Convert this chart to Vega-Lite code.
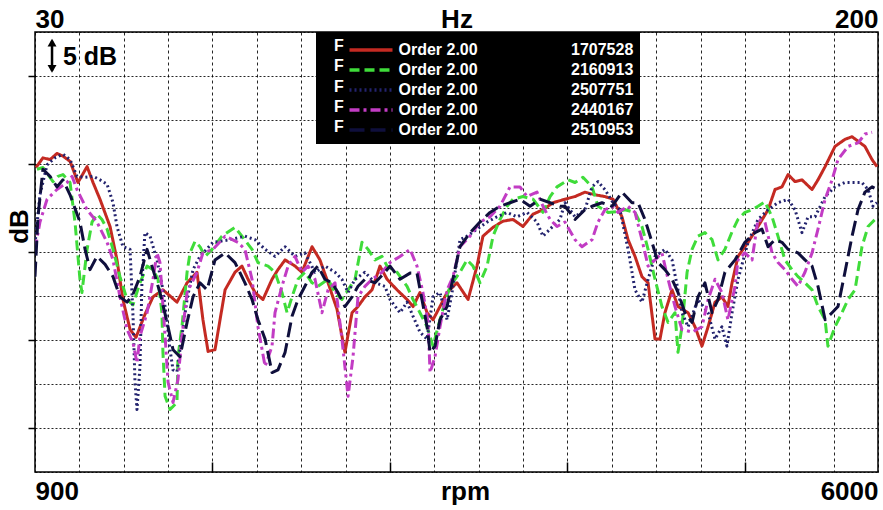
{
  "$schema": "https://vega.github.io/schema/vega-lite/v6.json",
  "width": 843,
  "height": 440,
  "autosize": {"type": "none"},
  "padding": {"left": 35, "top": 32, "right": 5, "bottom": 38},
  "background": "white",
  "config": {
    "font": "Liberation Sans",
    "view": {"stroke": "black", "strokeWidth": 1.5},
    "axis": {"domain": false, "labelColor": "black", "titleColor": "black"},
    "legend": {
      "orient": "none", "legendX": 281, "legendY": 0, "zindex": 2,
      "fillColor": "black", "padding": 6,
      "titleOrient": "left", "titleColor": "white", "titleFont": "Liberation Sans", "titleFontSize": 16, "titleFontWeight": "bold",
      "titleLineHeight": 20.3, "titlePadding": 15, "titleAnchor": "start", "titleBaseline": "top", "titleAlign": "left",
      "symbolType": "M-2.15,0H2.15", "symbolSize": 400, "symbolStrokeWidth": 3.5,
      "labelColor": "white", "labelFont": "Liberation Sans", "labelFontSize": 16, "labelFontWeight": "bold",
      "labelOffset": 15.5, "labelLimit": 0, "rowPadding": -3
    }
  },
  "datasets": {
    "curves": [
      {"s":"1707528","rpm":906,"dB":34.6},{"s":"1707528","rpm":948,"dB":35.7},{"s":"1707528","rpm":991,"dB":35.5},{"s":"1707528","rpm":1033,"dB":36.2},{"s":"1707528","rpm":1069,"dB":35.9},{"s":"1707528","rpm":1112,"dB":35.3},{"s":"1707528","rpm":1160,"dB":32.9},{"s":"1707528","rpm":1215,"dB":34.7},{"s":"1707528","rpm":1251,"dB":32.9},{"s":"1707528","rpm":1293,"dB":31.0},{"s":"1707528","rpm":1354,"dB":27.9},{"s":"1707528","rpm":1396,"dB":24.1},{"s":"1707528","rpm":1432,"dB":19.6},{"s":"1707528","rpm":1475,"dB":16.2},{"s":"1707528","rpm":1511,"dB":15.3},{"s":"1707528","rpm":1565,"dB":17.9},{"s":"1707528","rpm":1614,"dB":19.9},{"s":"1707528","rpm":1674,"dB":20.7},{"s":"1707528","rpm":1717,"dB":20.0},{"s":"1707528","rpm":1759,"dB":19.3},{"s":"1707528","rpm":1820,"dB":21.5},{"s":"1707528","rpm":1880,"dB":22.7},{"s":"1707528","rpm":1916,"dB":17.3},{"s":"1707528","rpm":1947,"dB":13.7},{"s":"1707528","rpm":1989,"dB":13.9},{"s":"1707528","rpm":2050,"dB":20.7},{"s":"1707528","rpm":2110,"dB":22.7},{"s":"1707528","rpm":2152,"dB":23.4},{"s":"1707528","rpm":2189,"dB":21.9},{"s":"1707528","rpm":2231,"dB":20.4},{"s":"1707528","rpm":2279,"dB":19.6},{"s":"1707528","rpm":2334,"dB":21.9},{"s":"1707528","rpm":2370,"dB":23.0},{"s":"1707528","rpm":2413,"dB":24.1},{"s":"1707528","rpm":2473,"dB":23.4},{"s":"1707528","rpm":2515,"dB":22.7},{"s":"1707528","rpm":2576,"dB":25.6},{"s":"1707528","rpm":2624,"dB":24.1},{"s":"1707528","rpm":2673,"dB":21.5},{"s":"1707528","rpm":2727,"dB":18.5},{"s":"1707528","rpm":2775,"dB":13.6},{"s":"1707528","rpm":2818,"dB":18.1},{"s":"1707528","rpm":2854,"dB":18.8},{"s":"1707528","rpm":2896,"dB":19.9},{"s":"1707528","rpm":2939,"dB":20.7},{"s":"1707528","rpm":2987,"dB":23.4},{"s":"1707528","rpm":3030,"dB":21.9},{"s":"1707528","rpm":3090,"dB":20.7},{"s":"1707528","rpm":3151,"dB":19.6},{"s":"1707528","rpm":3187,"dB":18.8},{"s":"1707528","rpm":3229,"dB":20.4},{"s":"1707528","rpm":3272,"dB":18.1},{"s":"1707528","rpm":3308,"dB":17.3},{"s":"1707528","rpm":3350,"dB":18.8},{"s":"1707528","rpm":3393,"dB":20.4},{"s":"1707528","rpm":3453,"dB":21.5},{"s":"1707528","rpm":3520,"dB":19.6},{"s":"1707528","rpm":3574,"dB":23.4},{"s":"1707528","rpm":3610,"dB":26.8},{"s":"1707528","rpm":3671,"dB":27.8},{"s":"1707528","rpm":3731,"dB":28.5},{"s":"1707528","rpm":3792,"dB":28.7},{"s":"1707528","rpm":3852,"dB":27.9},{"s":"1707528","rpm":3913,"dB":29.3},{"s":"1707528","rpm":3973,"dB":29.8},{"s":"1707528","rpm":4034,"dB":30.6},{"s":"1707528","rpm":4106,"dB":31.0},{"s":"1707528","rpm":4167,"dB":31.3},{"s":"1707528","rpm":4227,"dB":31.8},{"s":"1707528","rpm":4288,"dB":31.5},{"s":"1707528","rpm":4348,"dB":31.3},{"s":"1707528","rpm":4397,"dB":31.0},{"s":"1707528","rpm":4451,"dB":29.0},{"s":"1707528","rpm":4488,"dB":26.4},{"s":"1707528","rpm":4530,"dB":24.5},{"s":"1707528","rpm":4572,"dB":22.2},{"s":"1707528","rpm":4609,"dB":21.5},{"s":"1707528","rpm":4651,"dB":15.1},{"s":"1707528","rpm":4681,"dB":15.1},{"s":"1707528","rpm":4711,"dB":18.1},{"s":"1707528","rpm":4754,"dB":20.7},{"s":"1707528","rpm":4790,"dB":18.8},{"s":"1707528","rpm":4851,"dB":18.1},{"s":"1707528","rpm":4893,"dB":16.5},{"s":"1707528","rpm":4935,"dB":14.3},{"s":"1707528","rpm":4972,"dB":16.5},{"s":"1707528","rpm":5014,"dB":19.3},{"s":"1707528","rpm":5056,"dB":19.9},{"s":"1707528","rpm":5092,"dB":18.8},{"s":"1707528","rpm":5117,"dB":21.5},{"s":"1707528","rpm":5153,"dB":24.5},{"s":"1707528","rpm":5214,"dB":26.1},{"s":"1707528","rpm":5274,"dB":27.9},{"s":"1707528","rpm":5335,"dB":29.8},{"s":"1707528","rpm":5377,"dB":32.1},{"s":"1707528","rpm":5419,"dB":32.4},{"s":"1707528","rpm":5456,"dB":33.8},{"s":"1707528","rpm":5498,"dB":33.0},{"s":"1707528","rpm":5540,"dB":33.2},{"s":"1707528","rpm":5601,"dB":32.1},{"s":"1707528","rpm":5637,"dB":33.2},{"s":"1707528","rpm":5680,"dB":34.7},{"s":"1707528","rpm":5740,"dB":37.0},{"s":"1707528","rpm":5800,"dB":37.8},{"s":"1707528","rpm":5843,"dB":38.1},{"s":"1707528","rpm":5879,"dB":37.6},{"s":"1707528","rpm":5921,"dB":37.0},{"s":"1707528","rpm":5964,"dB":35.5},{"s":"1707528","rpm":5994,"dB":34.7},

      {"s":"2160913","rpm":912,"dB":34.4},{"s":"2160913","rpm":948,"dB":34.6},{"s":"2160913","rpm":1009,"dB":33.0},{"s":"2160913","rpm":1039,"dB":33.6},{"s":"2160913","rpm":1069,"dB":33.8},{"s":"2160913","rpm":1112,"dB":32.9},{"s":"2160913","rpm":1142,"dB":28.4},{"s":"2160913","rpm":1172,"dB":21.9},{"s":"2160913","rpm":1184,"dB":20.4},{"s":"2160913","rpm":1215,"dB":25.3},{"s":"2160913","rpm":1245,"dB":28.4},{"s":"2160913","rpm":1275,"dB":29.3},{"s":"2160913","rpm":1305,"dB":28.7},{"s":"2160913","rpm":1336,"dB":27.6},{"s":"2160913","rpm":1372,"dB":25.3},{"s":"2160913","rpm":1414,"dB":22.2},{"s":"2160913","rpm":1457,"dB":19.6},{"s":"2160913","rpm":1493,"dB":19.0},{"s":"2160913","rpm":1535,"dB":21.5},{"s":"2160913","rpm":1578,"dB":23.4},{"s":"2160913","rpm":1614,"dB":23.0},{"s":"2160913","rpm":1644,"dB":21.9},{"s":"2160913","rpm":1668,"dB":18.1},{"s":"2160913","rpm":1674,"dB":13.6},{"s":"2160913","rpm":1687,"dB":8.6},{"s":"2160913","rpm":1717,"dB":7.1},{"s":"2160913","rpm":1759,"dB":7.9},{"s":"2160913","rpm":1765,"dB":13.1},{"s":"2160913","rpm":1789,"dB":16.5},{"s":"2160913","rpm":1820,"dB":22.7},{"s":"2160913","rpm":1838,"dB":24.9},{"s":"2160913","rpm":1868,"dB":26.2},{"s":"2160913","rpm":1898,"dB":25.6},{"s":"2160913","rpm":1929,"dB":24.5},{"s":"2160913","rpm":1971,"dB":25.3},{"s":"2160913","rpm":2031,"dB":26.8},{"s":"2160913","rpm":2110,"dB":27.8},{"s":"2160913","rpm":2152,"dB":26.8},{"s":"2160913","rpm":2213,"dB":25.3},{"s":"2160913","rpm":2249,"dB":23.8},{"s":"2160913","rpm":2310,"dB":23.4},{"s":"2160913","rpm":2352,"dB":22.7},{"s":"2160913","rpm":2394,"dB":20.4},{"s":"2160913","rpm":2425,"dB":18.1},{"s":"2160913","rpm":2455,"dB":19.9},{"s":"2160913","rpm":2491,"dB":21.9},{"s":"2160913","rpm":2533,"dB":22.7},{"s":"2160913","rpm":2576,"dB":21.5},{"s":"2160913","rpm":2612,"dB":21.1},{"s":"2160913","rpm":2673,"dB":21.9},{"s":"2160913","rpm":2715,"dB":20.4},{"s":"2160913","rpm":2757,"dB":19.6},{"s":"2160913","rpm":2794,"dB":20.7},{"s":"2160913","rpm":2836,"dB":21.9},{"s":"2160913","rpm":2878,"dB":26.1},{"s":"2160913","rpm":2915,"dB":25.3},{"s":"2160913","rpm":2957,"dB":24.1},{"s":"2160913","rpm":2999,"dB":24.5},{"s":"2160913","rpm":3030,"dB":23.4},{"s":"2160913","rpm":3090,"dB":22.7},{"s":"2160913","rpm":3151,"dB":21.1},{"s":"2160913","rpm":3187,"dB":19.6},{"s":"2160913","rpm":3229,"dB":18.1},{"s":"2160913","rpm":3272,"dB":16.5},{"s":"2160913","rpm":3308,"dB":14.3},{"s":"2160913","rpm":3338,"dB":16.5},{"s":"2160913","rpm":3368,"dB":18.5},{"s":"2160913","rpm":3411,"dB":21.1},{"s":"2160913","rpm":3471,"dB":22.7},{"s":"2160913","rpm":3514,"dB":24.1},{"s":"2160913","rpm":3550,"dB":23.4},{"s":"2160913","rpm":3592,"dB":21.5},{"s":"2160913","rpm":3635,"dB":23.4},{"s":"2160913","rpm":3671,"dB":26.8},{"s":"2160913","rpm":3713,"dB":28.7},{"s":"2160913","rpm":3756,"dB":30.2},{"s":"2160913","rpm":3792,"dB":31.0},{"s":"2160913","rpm":3852,"dB":31.3},{"s":"2160913","rpm":3913,"dB":31.0},{"s":"2160913","rpm":3973,"dB":29.5},{"s":"2160913","rpm":4016,"dB":31.3},{"s":"2160913","rpm":4058,"dB":32.4},{"s":"2160913","rpm":4125,"dB":33.2},{"s":"2160913","rpm":4167,"dB":32.9},{"s":"2160913","rpm":4215,"dB":33.5},{"s":"2160913","rpm":4270,"dB":32.4},{"s":"2160913","rpm":4306,"dB":30.2},{"s":"2160913","rpm":4367,"dB":29.5},{"s":"2160913","rpm":4427,"dB":29.6},{"s":"2160913","rpm":4469,"dB":29.8},{"s":"2160913","rpm":4530,"dB":29.5},{"s":"2160913","rpm":4572,"dB":27.9},{"s":"2160913","rpm":4609,"dB":25.3},{"s":"2160913","rpm":4651,"dB":21.9},{"s":"2160913","rpm":4693,"dB":18.8},{"s":"2160913","rpm":4730,"dB":17.0},{"s":"2160913","rpm":4772,"dB":18.1},{"s":"2160913","rpm":4790,"dB":13.6},{"s":"2160913","rpm":4814,"dB":16.5},{"s":"2160913","rpm":4845,"dB":22.7},{"s":"2160913","rpm":4875,"dB":25.3},{"s":"2160913","rpm":4911,"dB":26.8},{"s":"2160913","rpm":4953,"dB":27.2},{"s":"2160913","rpm":4996,"dB":26.4},{"s":"2160913","rpm":5032,"dB":24.1},{"s":"2160913","rpm":5074,"dB":25.3},{"s":"2160913","rpm":5117,"dB":27.3},{"s":"2160913","rpm":5153,"dB":28.7},{"s":"2160913","rpm":5195,"dB":29.5},{"s":"2160913","rpm":5238,"dB":29.8},{"s":"2160913","rpm":5274,"dB":30.2},{"s":"2160913","rpm":5316,"dB":30.7},{"s":"2160913","rpm":5359,"dB":29.0},{"s":"2160913","rpm":5395,"dB":26.8},{"s":"2160913","rpm":5437,"dB":24.1},{"s":"2160913","rpm":5480,"dB":23.0},{"s":"2160913","rpm":5516,"dB":22.2},{"s":"2160913","rpm":5558,"dB":21.5},{"s":"2160913","rpm":5601,"dB":20.7},{"s":"2160913","rpm":5637,"dB":18.8},{"s":"2160913","rpm":5680,"dB":17.3},{"s":"2160913","rpm":5697,"dB":14.3},{"s":"2160913","rpm":5740,"dB":16.5},{"s":"2160913","rpm":5782,"dB":18.1},{"s":"2160913","rpm":5819,"dB":19.6},{"s":"2160913","rpm":5861,"dB":20.7},{"s":"2160913","rpm":5903,"dB":25.6},{"s":"2160913","rpm":5940,"dB":27.9},{"s":"2160913","rpm":5982,"dB":28.7},

      {"s":"2507751","rpm":900,"dB":25.9},{"s":"2507751","rpm":930,"dB":31.5},{"s":"2507751","rpm":973,"dB":34.9},{"s":"2507751","rpm":1021,"dB":35.7},{"s":"2507751","rpm":1069,"dB":36.1},{"s":"2507751","rpm":1112,"dB":35.5},{"s":"2507751","rpm":1154,"dB":33.6},{"s":"2507751","rpm":1203,"dB":33.5},{"s":"2507751","rpm":1251,"dB":33.6},{"s":"2507751","rpm":1293,"dB":33.2},{"s":"2507751","rpm":1336,"dB":32.7},{"s":"2507751","rpm":1372,"dB":30.6},{"s":"2507751","rpm":1396,"dB":27.9},{"s":"2507751","rpm":1432,"dB":25.6},{"s":"2507751","rpm":1475,"dB":25.3},{"s":"2507751","rpm":1493,"dB":17.7},{"s":"2507751","rpm":1505,"dB":10.2},{"s":"2507751","rpm":1517,"dB":7.1},{"s":"2507751","rpm":1535,"dB":12.0},{"s":"2507751","rpm":1547,"dB":21.5},{"s":"2507751","rpm":1565,"dB":27.2},{"s":"2507751","rpm":1596,"dB":26.8},{"s":"2507751","rpm":1638,"dB":24.1},{"s":"2507751","rpm":1674,"dB":20.7},{"s":"2507751","rpm":1699,"dB":17.0},{"s":"2507751","rpm":1717,"dB":13.9},{"s":"2507751","rpm":1735,"dB":11.6},{"s":"2507751","rpm":1759,"dB":11.4},{"s":"2507751","rpm":1777,"dB":13.9},{"s":"2507751","rpm":1820,"dB":19.6},{"s":"2507751","rpm":1856,"dB":23.0},{"s":"2507751","rpm":1898,"dB":24.5},{"s":"2507751","rpm":1977,"dB":26.1},{"s":"2507751","rpm":2080,"dB":26.4},{"s":"2507751","rpm":2170,"dB":26.8},{"s":"2507751","rpm":2231,"dB":26.4},{"s":"2507751","rpm":2292,"dB":25.3},{"s":"2507751","rpm":2352,"dB":24.5},{"s":"2507751","rpm":2413,"dB":25.6},{"s":"2507751","rpm":2473,"dB":24.5},{"s":"2507751","rpm":2533,"dB":24.9},{"s":"2507751","rpm":2594,"dB":22.7},{"s":"2507751","rpm":2654,"dB":23.4},{"s":"2507751","rpm":2715,"dB":22.7},{"s":"2507751","rpm":2757,"dB":21.9},{"s":"2507751","rpm":2794,"dB":20.4},{"s":"2507751","rpm":2836,"dB":21.9},{"s":"2507751","rpm":2896,"dB":22.7},{"s":"2507751","rpm":2957,"dB":21.5},{"s":"2507751","rpm":3017,"dB":21.1},{"s":"2507751","rpm":3048,"dB":19.6},{"s":"2507751","rpm":3108,"dB":18.1},{"s":"2507751","rpm":3151,"dB":19.3},{"s":"2507751","rpm":3187,"dB":17.7},{"s":"2507751","rpm":3229,"dB":15.9},{"s":"2507751","rpm":3272,"dB":15.1},{"s":"2507751","rpm":3308,"dB":19.9},{"s":"2507751","rpm":3350,"dB":20.4},{"s":"2507751","rpm":3393,"dB":17.3},{"s":"2507751","rpm":3423,"dB":20.4},{"s":"2507751","rpm":3453,"dB":24.1},{"s":"2507751","rpm":3471,"dB":26.4},{"s":"2507751","rpm":3514,"dB":26.8},{"s":"2507751","rpm":3574,"dB":27.6},{"s":"2507751","rpm":3635,"dB":28.4},{"s":"2507751","rpm":3695,"dB":29.0},{"s":"2507751","rpm":3756,"dB":29.5},{"s":"2507751","rpm":3816,"dB":29.0},{"s":"2507751","rpm":3877,"dB":29.5},{"s":"2507751","rpm":3937,"dB":28.4},{"s":"2507751","rpm":3973,"dB":26.8},{"s":"2507751","rpm":4016,"dB":27.6},{"s":"2507751","rpm":4076,"dB":28.7},{"s":"2507751","rpm":4106,"dB":30.6},{"s":"2507751","rpm":4167,"dB":29.0},{"s":"2507751","rpm":4227,"dB":29.8},{"s":"2507751","rpm":4270,"dB":32.4},{"s":"2507751","rpm":4306,"dB":33.0},{"s":"2507751","rpm":4348,"dB":32.1},{"s":"2507751","rpm":4397,"dB":30.6},{"s":"2507751","rpm":4439,"dB":29.8},{"s":"2507751","rpm":4488,"dB":25.3},{"s":"2507751","rpm":4530,"dB":20.7},{"s":"2507751","rpm":4572,"dB":19.3},{"s":"2507751","rpm":4609,"dB":21.9},{"s":"2507751","rpm":4651,"dB":24.5},{"s":"2507751","rpm":4711,"dB":25.3},{"s":"2507751","rpm":4754,"dB":24.1},{"s":"2507751","rpm":4790,"dB":20.7},{"s":"2507751","rpm":4814,"dB":18.1},{"s":"2507751","rpm":4851,"dB":16.5},{"s":"2507751","rpm":4911,"dB":19.6},{"s":"2507751","rpm":4972,"dB":18.1},{"s":"2507751","rpm":5014,"dB":15.1},{"s":"2507751","rpm":5056,"dB":16.5},{"s":"2507751","rpm":5086,"dB":14.3},{"s":"2507751","rpm":5117,"dB":18.1},{"s":"2507751","rpm":5153,"dB":21.9},{"s":"2507751","rpm":5214,"dB":26.1},{"s":"2507751","rpm":5274,"dB":28.7},{"s":"2507751","rpm":5335,"dB":29.8},{"s":"2507751","rpm":5395,"dB":30.6},{"s":"2507751","rpm":5456,"dB":31.0},{"s":"2507751","rpm":5498,"dB":29.8},{"s":"2507751","rpm":5540,"dB":27.2},{"s":"2507751","rpm":5577,"dB":29.0},{"s":"2507751","rpm":5619,"dB":29.0},{"s":"2507751","rpm":5680,"dB":31.3},{"s":"2507751","rpm":5740,"dB":32.4},{"s":"2507751","rpm":5800,"dB":32.9},{"s":"2507751","rpm":5861,"dB":32.9},{"s":"2507751","rpm":5903,"dB":32.9},{"s":"2507751","rpm":5940,"dB":32.1},{"s":"2507751","rpm":5970,"dB":30.2},{"s":"2507751","rpm":5994,"dB":30.6},

      {"s":"2440167","rpm":900,"dB":25.3},{"s":"2440167","rpm":930,"dB":28.4},{"s":"2440167","rpm":973,"dB":31.0},{"s":"2440167","rpm":1033,"dB":32.1},{"s":"2440167","rpm":1094,"dB":32.9},{"s":"2440167","rpm":1124,"dB":33.6},{"s":"2440167","rpm":1154,"dB":32.1},{"s":"2440167","rpm":1215,"dB":29.8},{"s":"2440167","rpm":1275,"dB":28.4},{"s":"2440167","rpm":1336,"dB":26.1},{"s":"2440167","rpm":1372,"dB":24.1},{"s":"2440167","rpm":1414,"dB":19.9},{"s":"2440167","rpm":1457,"dB":16.2},{"s":"2440167","rpm":1493,"dB":14.7},{"s":"2440167","rpm":1517,"dB":12.4},{"s":"2440167","rpm":1535,"dB":15.4},{"s":"2440167","rpm":1578,"dB":18.1},{"s":"2440167","rpm":1614,"dB":21.9},{"s":"2440167","rpm":1638,"dB":24.9},{"s":"2440167","rpm":1656,"dB":23.8},{"s":"2440167","rpm":1687,"dB":15.4},{"s":"2440167","rpm":1705,"dB":10.2},{"s":"2440167","rpm":1735,"dB":7.9},{"s":"2440167","rpm":1765,"dB":10.5},{"s":"2440167","rpm":1789,"dB":15.4},{"s":"2440167","rpm":1820,"dB":20.4},{"s":"2440167","rpm":1880,"dB":22.7},{"s":"2440167","rpm":1916,"dB":24.9},{"s":"2440167","rpm":1977,"dB":25.3},{"s":"2440167","rpm":2050,"dB":26.8},{"s":"2440167","rpm":2128,"dB":26.1},{"s":"2440167","rpm":2170,"dB":25.3},{"s":"2440167","rpm":2213,"dB":21.9},{"s":"2440167","rpm":2249,"dB":16.5},{"s":"2440167","rpm":2292,"dB":12.0},{"s":"2440167","rpm":2334,"dB":14.3},{"s":"2440167","rpm":2352,"dB":18.1},{"s":"2440167","rpm":2394,"dB":21.1},{"s":"2440167","rpm":2431,"dB":23.4},{"s":"2440167","rpm":2473,"dB":24.5},{"s":"2440167","rpm":2515,"dB":22.7},{"s":"2440167","rpm":2552,"dB":23.4},{"s":"2440167","rpm":2594,"dB":21.9},{"s":"2440167","rpm":2636,"dB":18.1},{"s":"2440167","rpm":2673,"dB":20.7},{"s":"2440167","rpm":2715,"dB":21.5},{"s":"2440167","rpm":2757,"dB":15.1},{"s":"2440167","rpm":2794,"dB":8.6},{"s":"2440167","rpm":2824,"dB":13.1},{"s":"2440167","rpm":2854,"dB":19.9},{"s":"2440167","rpm":2896,"dB":21.1},{"s":"2440167","rpm":2939,"dB":21.9},{"s":"2440167","rpm":2999,"dB":22.7},{"s":"2440167","rpm":3048,"dB":23.8},{"s":"2440167","rpm":3108,"dB":24.5},{"s":"2440167","rpm":3169,"dB":25.3},{"s":"2440167","rpm":3211,"dB":23.4},{"s":"2440167","rpm":3247,"dB":20.4},{"s":"2440167","rpm":3278,"dB":17.0},{"s":"2440167","rpm":3290,"dB":11.3},{"s":"2440167","rpm":3320,"dB":13.1},{"s":"2440167","rpm":3350,"dB":16.5},{"s":"2440167","rpm":3393,"dB":20.7},{"s":"2440167","rpm":3429,"dB":22.2},{"s":"2440167","rpm":3471,"dB":25.6},{"s":"2440167","rpm":3532,"dB":26.8},{"s":"2440167","rpm":3592,"dB":28.4},{"s":"2440167","rpm":3653,"dB":29.0},{"s":"2440167","rpm":3713,"dB":30.2},{"s":"2440167","rpm":3774,"dB":32.4},{"s":"2440167","rpm":3834,"dB":32.4},{"s":"2440167","rpm":3877,"dB":31.3},{"s":"2440167","rpm":3937,"dB":31.8},{"s":"2440167","rpm":3973,"dB":30.2},{"s":"2440167","rpm":4016,"dB":28.7},{"s":"2440167","rpm":4058,"dB":27.9},{"s":"2440167","rpm":4106,"dB":28.4},{"s":"2440167","rpm":4167,"dB":26.4},{"s":"2440167","rpm":4209,"dB":25.6},{"s":"2440167","rpm":4270,"dB":26.4},{"s":"2440167","rpm":4306,"dB":28.4},{"s":"2440167","rpm":4348,"dB":29.8},{"s":"2440167","rpm":4391,"dB":30.2},{"s":"2440167","rpm":4427,"dB":29.5},{"s":"2440167","rpm":4488,"dB":30.2},{"s":"2440167","rpm":4530,"dB":29.5},{"s":"2440167","rpm":4572,"dB":26.4},{"s":"2440167","rpm":4609,"dB":23.4},{"s":"2440167","rpm":4651,"dB":24.1},{"s":"2440167","rpm":4693,"dB":24.9},{"s":"2440167","rpm":4730,"dB":21.9},{"s":"2440167","rpm":4772,"dB":18.8},{"s":"2440167","rpm":4814,"dB":16.2},{"s":"2440167","rpm":4875,"dB":15.9},{"s":"2440167","rpm":4935,"dB":16.5},{"s":"2440167","rpm":4972,"dB":19.6},{"s":"2440167","rpm":5014,"dB":21.9},{"s":"2440167","rpm":5056,"dB":20.4},{"s":"2440167","rpm":5092,"dB":17.3},{"s":"2440167","rpm":5135,"dB":21.1},{"s":"2440167","rpm":5153,"dB":24.1},{"s":"2440167","rpm":5195,"dB":24.9},{"s":"2440167","rpm":5238,"dB":24.1},{"s":"2440167","rpm":5274,"dB":28.7},{"s":"2440167","rpm":5316,"dB":28.4},{"s":"2440167","rpm":5359,"dB":24.9},{"s":"2440167","rpm":5395,"dB":23.8},{"s":"2440167","rpm":5437,"dB":23.0},{"s":"2440167","rpm":5480,"dB":21.9},{"s":"2440167","rpm":5516,"dB":21.1},{"s":"2440167","rpm":5558,"dB":22.7},{"s":"2440167","rpm":5601,"dB":24.9},{"s":"2440167","rpm":5637,"dB":27.6},{"s":"2440167","rpm":5680,"dB":31.0},{"s":"2440167","rpm":5722,"dB":33.2},{"s":"2440167","rpm":5758,"dB":35.5},{"s":"2440167","rpm":5819,"dB":37.0},{"s":"2440167","rpm":5879,"dB":37.4},{"s":"2440167","rpm":5921,"dB":38.4},{"s":"2440167","rpm":5964,"dB":38.6},

      {"s":"2510953","rpm":900,"dB":22.2},{"s":"2510953","rpm":918,"dB":29.0},{"s":"2510953","rpm":948,"dB":34.4},{"s":"2510953","rpm":991,"dB":33.6},{"s":"2510953","rpm":1033,"dB":32.4},{"s":"2510953","rpm":1069,"dB":33.2},{"s":"2510953","rpm":1112,"dB":31.5},{"s":"2510953","rpm":1172,"dB":28.4},{"s":"2510953","rpm":1203,"dB":25.3},{"s":"2510953","rpm":1233,"dB":23.0},{"s":"2510953","rpm":1275,"dB":24.5},{"s":"2510953","rpm":1324,"dB":23.6},{"s":"2510953","rpm":1372,"dB":22.2},{"s":"2510953","rpm":1414,"dB":19.9},{"s":"2510953","rpm":1457,"dB":19.3},{"s":"2510953","rpm":1493,"dB":20.2},{"s":"2510953","rpm":1535,"dB":22.2},{"s":"2510953","rpm":1578,"dB":25.3},{"s":"2510953","rpm":1614,"dB":23.0},{"s":"2510953","rpm":1656,"dB":20.4},{"s":"2510953","rpm":1699,"dB":17.0},{"s":"2510953","rpm":1735,"dB":13.9},{"s":"2510953","rpm":1777,"dB":13.1},{"s":"2510953","rpm":1820,"dB":17.0},{"s":"2510953","rpm":1856,"dB":19.9},{"s":"2510953","rpm":1898,"dB":21.5},{"s":"2510953","rpm":1941,"dB":20.7},{"s":"2510953","rpm":1989,"dB":24.1},{"s":"2510953","rpm":2050,"dB":24.9},{"s":"2510953","rpm":2110,"dB":23.8},{"s":"2510953","rpm":2170,"dB":21.5},{"s":"2510953","rpm":2213,"dB":19.6},{"s":"2510953","rpm":2249,"dB":17.3},{"s":"2510953","rpm":2292,"dB":15.1},{"s":"2510953","rpm":2334,"dB":11.3},{"s":"2510953","rpm":2370,"dB":11.6},{"s":"2510953","rpm":2413,"dB":13.6},{"s":"2510953","rpm":2455,"dB":17.7},{"s":"2510953","rpm":2491,"dB":19.6},{"s":"2510953","rpm":2533,"dB":21.1},{"s":"2510953","rpm":2576,"dB":22.7},{"s":"2510953","rpm":2612,"dB":23.4},{"s":"2510953","rpm":2654,"dB":21.9},{"s":"2510953","rpm":2697,"dB":21.5},{"s":"2510953","rpm":2733,"dB":20.4},{"s":"2510953","rpm":2775,"dB":18.8},{"s":"2510953","rpm":2818,"dB":19.9},{"s":"2510953","rpm":2854,"dB":21.1},{"s":"2510953","rpm":2896,"dB":21.9},{"s":"2510953","rpm":2957,"dB":21.5},{"s":"2510953","rpm":3017,"dB":22.7},{"s":"2510953","rpm":3048,"dB":23.4},{"s":"2510953","rpm":3108,"dB":21.9},{"s":"2510953","rpm":3169,"dB":22.6},{"s":"2510953","rpm":3211,"dB":22.6},{"s":"2510953","rpm":3241,"dB":19.6},{"s":"2510953","rpm":3272,"dB":16.5},{"s":"2510953","rpm":3290,"dB":13.6},{"s":"2510953","rpm":3320,"dB":14.3},{"s":"2510953","rpm":3350,"dB":17.3},{"s":"2510953","rpm":3393,"dB":18.8},{"s":"2510953","rpm":3423,"dB":21.5},{"s":"2510953","rpm":3471,"dB":25.6},{"s":"2510953","rpm":3532,"dB":27.2},{"s":"2510953","rpm":3592,"dB":28.4},{"s":"2510953","rpm":3653,"dB":29.5},{"s":"2510953","rpm":3713,"dB":30.2},{"s":"2510953","rpm":3774,"dB":30.6},{"s":"2510953","rpm":3834,"dB":31.0},{"s":"2510953","rpm":3895,"dB":30.2},{"s":"2510953","rpm":3955,"dB":31.0},{"s":"2510953","rpm":4016,"dB":30.6},{"s":"2510953","rpm":4076,"dB":30.2},{"s":"2510953","rpm":4106,"dB":30.2},{"s":"2510953","rpm":4167,"dB":28.7},{"s":"2510953","rpm":4227,"dB":29.8},{"s":"2510953","rpm":4270,"dB":30.2},{"s":"2510953","rpm":4330,"dB":30.6},{"s":"2510953","rpm":4391,"dB":30.2},{"s":"2510953","rpm":4451,"dB":31.8},{"s":"2510953","rpm":4512,"dB":30.6},{"s":"2510953","rpm":4548,"dB":30.6},{"s":"2510953","rpm":4590,"dB":28.7},{"s":"2510953","rpm":4633,"dB":26.1},{"s":"2510953","rpm":4669,"dB":23.8},{"s":"2510953","rpm":4711,"dB":23.0},{"s":"2510953","rpm":4754,"dB":21.9},{"s":"2510953","rpm":4790,"dB":20.4},{"s":"2510953","rpm":4832,"dB":18.1},{"s":"2510953","rpm":4875,"dB":17.0},{"s":"2510953","rpm":4911,"dB":19.9},{"s":"2510953","rpm":4953,"dB":21.5},{"s":"2510953","rpm":4996,"dB":18.1},{"s":"2510953","rpm":5032,"dB":19.6},{"s":"2510953","rpm":5074,"dB":22.7},{"s":"2510953","rpm":5135,"dB":24.1},{"s":"2510953","rpm":5195,"dB":26.1},{"s":"2510953","rpm":5256,"dB":27.2},{"s":"2510953","rpm":5298,"dB":27.6},{"s":"2510953","rpm":5335,"dB":25.6},{"s":"2510953","rpm":5377,"dB":26.4},{"s":"2510953","rpm":5419,"dB":26.1},{"s":"2510953","rpm":5456,"dB":25.3},{"s":"2510953","rpm":5516,"dB":24.9},{"s":"2510953","rpm":5558,"dB":24.1},{"s":"2510953","rpm":5601,"dB":23.4},{"s":"2510953","rpm":5637,"dB":21.1},{"s":"2510953","rpm":5680,"dB":17.3},{"s":"2510953","rpm":5722,"dB":18.1},{"s":"2510953","rpm":5758,"dB":18.8},{"s":"2510953","rpm":5800,"dB":22.7},{"s":"2510953","rpm":5843,"dB":26.8},{"s":"2510953","rpm":5879,"dB":29.8},{"s":"2510953","rpm":5921,"dB":31.8},{"s":"2510953","rpm":5964,"dB":32.4},{"s":"2510953","rpm":5994,"dB":32.1}
    ]
  },
  "layer": [
    {
      "data": {"name": "curves"},
      "mark": {"type": "line", "strokeWidth": 3, "strokeJoin": "round", "clip": true},
      "encoding": {
        "x": {
          "field": "rpm", "type": "quantitative",
          "scale": {"domain": [900, 6000], "nice": false, "zero": false},
          "axis": {
            "orient": "bottom",
            "values": [900, 1168.42, 1436.84, 1705.26, 1973.68, 2242.11, 2510.53, 2778.95, 3047.37, 3315.79, 3584.21, 3852.63, 4121.05, 4389.47, 4657.89, 4926.32, 5194.74, 5463.16, 5731.58, 6000],
            "grid": true, "gridColor": "black", "gridDash": [3, 3], "gridWidth": 1, "gridOpacity": 0.85,
            "ticks": false,
            "labelExpr": "datum.value == 900 ? '900' : (datum.value == 6000 ? '6000' : '')",
            "labelFlush": true, "labelOverlap": false,
            "labelFont": "Liberation Sans", "labelFontSize": 26, "labelFontWeight": "bold",
            "labelBaseline": "alphabetic", "labelPadding": 27,
            "title": "rpm", "titleFont": "Liberation Sans", "titleFontSize": 26, "titleFontWeight": "bold",
            "titleBaseline": "alphabetic", "titleY": 27, "titleX": 430
          }
        },
        "y": {
          "field": "dB", "type": "quantitative",
          "scale": {"domain": [0, 50], "nice": false, "zero": false},
          "axis": {
            "orient": "left",
            "values": [0, 5, 10, 15, 20, 25, 30, 35, 40, 45, 50],
            "grid": true, "gridColor": "black", "gridDash": [2, 2], "gridWidth": 1, "gridOpacity": 0.85,
            "ticks": false, "labels": false,
            "title": "dB", "titleFont": "Liberation Sans", "titleFontSize": 26, "titleFontWeight": "bold",
            "titleX": -16, "titleY": 194, "titleBaseline": "middle", "titleAlign": "center", "titleAngle": -90
          }
        },
        "color": {
          "field": "s", "type": "nominal",
          "scale": {
            "domain": ["1707528", "2160913", "2507751", "2440167", "2510953"],
            "range": ["#c42a22", "#3fdc3a", "#23236e", "#c23cc4", "#0f0f3c"]
          },
          "legend": {
            "title": ["\u2800F", "\u2800F", "\u2800F", "\u2800F", "\u2800F"],
            "labelExpr": "'Order 2.00' + '\u00a0\u00a0\u00a0\u00a0\u00a0\u00a0\u00a0\u00a0\u00a0\u00a0\u00a0\u00a0\u00a0\u00a0\u00a0\u00a0\u00a0\u00a0\u00a0\u00a0\u00a0' + datum.label"
          }
        },
        "strokeDash": {
          "field": "s", "type": "nominal",
          "scale": {
            "domain": ["1707528", "2160913", "2507751", "2440167", "2510953"],
            "range": [[1, 0], [10, 5], [2, 3], [10, 4, 3, 4], [15, 6]]
          },
          "legend": {
            "title": ["\u2800F", "\u2800F", "\u2800F", "\u2800F", "\u2800F"],
            "labelExpr": "'Order 2.00' + '\u00a0\u00a0\u00a0\u00a0\u00a0\u00a0\u00a0\u00a0\u00a0\u00a0\u00a0\u00a0\u00a0\u00a0\u00a0\u00a0\u00a0\u00a0\u00a0\u00a0\u00a0' + datum.label"
          }
        }
      }
    },
    {
      "data": {"values": [{}]},
      "mark": {"type": "rule", "color": "black", "strokeWidth": 2.5},
      "encoding": {
        "x": {
          "datum": 1003, "type": "quantitative",
          "axis": {
            "orient": "top", "values": [900, 6000],
            "grid": false, "ticks": false,
            "labelExpr": "datum.value == 900 ? '30' : '200'",
            "labelFlush": true, "labelOverlap": false,
            "labelFont": "Liberation Sans", "labelFontSize": 26, "labelFontWeight": "bold",
            "labelBaseline": "alphabetic", "labelPadding": 5,
            "title": "Hz", "titleFont": "Liberation Sans", "titleFontSize": 26, "titleFontWeight": "bold",
            "titleBaseline": "alphabetic", "titleY": -5
          }
        },
        "y": {
          "datum": 45.6, "type": "quantitative",
          "axis": {
            "orient": "left", "values": [5, 15, 25, 35, 45],
            "grid": false, "labels": false, "ticks": true, "tickSize": 7, "tickWidth": 1.5, "tickColor": "black", "title": null
          }
        },
        "y2": {"datum": 49.0}
      }
    },
    {
      "data": {"values": [{}]},
      "mark": {"type": "point", "shape": "triangle-up", "filled": true, "color": "black", "opacity": 1, "size": 80},
      "encoding": {
        "x": {
          "datum": 1003, "type": "quantitative",
          "axis": {
            "orient": "bottom", "values": [1973.68, 3047.37, 4121.05, 5194.74],
            "grid": false, "labels": false, "ticks": true, "tickSize": -10, "tickWidth": 1.5, "tickColor": "black", "title": null
          }
        },
        "y": {"datum": 48.8, "type": "quantitative", "axis": null}
      }
    },
    {
      "data": {"values": [{}]},
      "mark": {"type": "point", "shape": "triangle-down", "filled": true, "color": "black", "opacity": 1, "size": 80},
      "encoding": {
        "x": {"datum": 1003, "type": "quantitative", "axis": null},
        "y": {"datum": 45.8, "type": "quantitative", "axis": null}
      }
    },
    {
      "data": {"values": [{}]},
      "mark": {"type": "text", "text": "5 dB", "font": "Liberation Sans", "fontSize": 25, "fontWeight": "bold", "align": "left", "baseline": "middle", "color": "black"},
      "encoding": {
        "x": {"datum": 1069, "type": "quantitative", "axis": null},
        "y": {"datum": 47.2, "type": "quantitative", "axis": null}
      }
    }
  ],
  "resolve": {"axis": {"x": "independent", "y": "independent"}}
}
